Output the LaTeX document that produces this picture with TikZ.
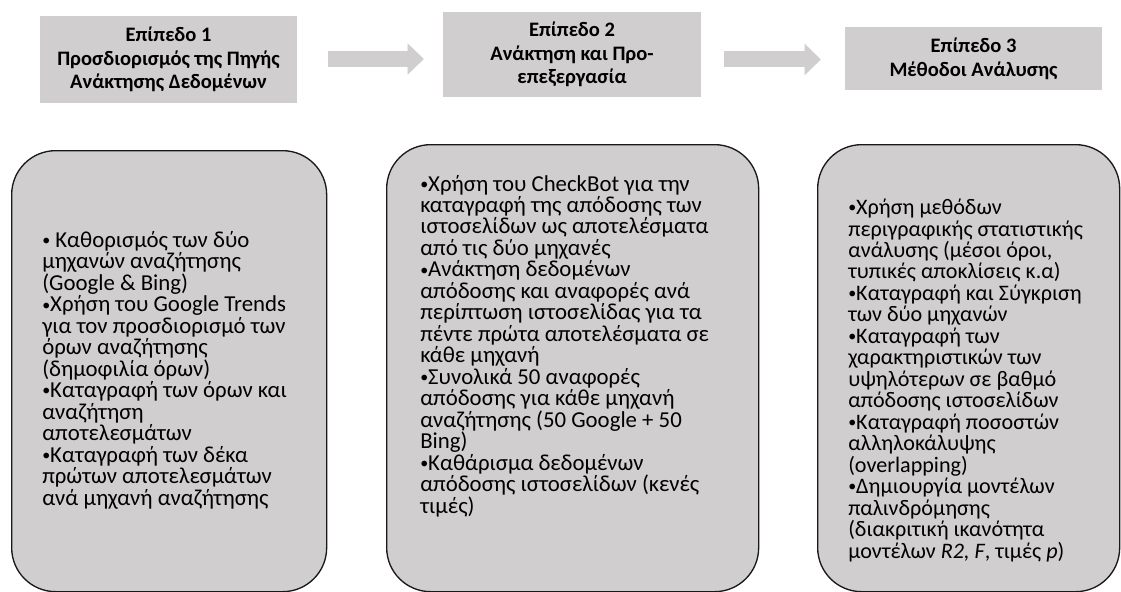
\documentclass[tikz,border=0pt]{standalone}
\usepackage{fontspec}
\setmainfont{Carlito}
\usetikzlibrary{arrows.meta}
\definecolor{boxgray}{RGB}{208,206,206}
\definecolor{edgegray}{RGB}{25,25,25}
\newcommand{\dotbul}{\raisebox{1.3pt}{\fontsize{12}{0}\selectfont•}}

\begin{document}
\begin{tikzpicture}[x=0.75pt,y=-0.75pt,
    level/.style={fill=boxgray,inner sep=0pt,align=center,font=\fontsize{15.4}{17.8}\selectfont\bfseries},
    task/.style={fill=boxgray,draw=edgegray,line width=1pt,rounded corners=33pt,anchor=north west,inner sep=0pt},
    tasktext/.style={anchor=base west,inner sep=0pt,align=left,font=\fontsize{17.1}{16.1}\selectfont},
    flow/.style={line width=12pt,draw=boxgray,-{Triangle[length=12pt,width=23.25pt,line width=0.1pt]}}]
  \useasboundingbox (0,0) rectangle (1121,592);
  % levels
  \draw
    (168.5,59.5) node[level,minimum width=192.75pt,minimum height=65.25pt] (lvl1){Επίπεδο 1\\Προσδιορισμός της Πηγής\\Ανάκτησης Δεδομένων}
    (572,54.5) node[level,minimum width=193.5pt,minimum height=63.75pt] (lvl2){Επίπεδο 2\\Ανάκτηση και Προ-\\επεξεργασία}
    (973.5,58.5) node[level,minimum width=192.75pt,minimum height=47.25pt] (lvl3){Επίπεδο 3\\Μέθοδοι Ανάλυσης};
  % tasks
  \draw
    (11,150) node[task,minimum width=236.25pt,minimum height=330.75pt] (task1){}
    (386,144) node[task,minimum width=279pt,minimum height=335.25pt] (task2){}
    (817,144) node[task,minimum width=226.5pt,minimum height=335.25pt] (task3){};
  % texts, placed by their last line
  \draw
    (42,505) node[tasktext] (txt1){\dotbul{} Καθορισμός των δύο\\μηχανών αναζήτησης\\(Google \& Bing)\\\dotbul Χρήση του Google Trends\\για τον προσδιορισμό των\\όρων αναζήτησης\\(δημοφιλία όρων)\\\dotbul Καταγραφή των όρων και\\αναζήτηση\\αποτελεσμάτων\\\dotbul Καταγραφή των δέκα\\πρώτων αποτελεσμάτων\\ανά μηχανή αναζήτησης}
    (420,513) node[tasktext] (txt2){\dotbul Χρήση του CheckBot για την\\καταγραφή της απόδοσης των\\ιστοσελίδων ως αποτελέσματα\\από τις δύο μηχανές\\\dotbul Ανάκτηση δεδομένων\\απόδοσης και αναφορές ανά\\περίπτωση ιστοσελίδας για τα\\πέντε πρώτα αποτελέσματα σε\\κάθε μηχανή\\\dotbul Συνολικά 50 αναφορές\\απόδοσης για κάθε μηχανή\\αναζήτησης (50 Google + 50\\Bing)\\\dotbul Καθάρισμα δεδομένων\\απόδοσης ιστοσελίδων (κενές\\τιμές)}
    (848,558) node[tasktext,font=\fontsize{16.6}{16.1}\selectfont] (txt3){\dotbul Χρήση μεθόδων\\περιγραφικής στατιστικής\\ανάλυσης (μέσοι όροι,\\τυπικές αποκλίσεις κ.α)\\\dotbul Καταγραφή και Σύγκριση\\των δύο μηχανών\\\dotbul Καταγραφή των\\χαρακτηριστικών των\\υψηλότερων σε βαθμό\\απόδοσης ιστοσελίδων\\\dotbul Καταγραφή ποσοστών\\αλληλοκάλυψης\\(overlapping)\\\dotbul Δημιουργία μοντέλων\\παλινδρόμησης\\(διακριτική ικανότητα\\μοντέλων \textit{R2, F}, τιμές \textit{p})};
  \begin{scope}[flow]
    \draw ([shift={(31,-0.5)}]lvl1.east) -- ([shift={(-19,4.5)}]lvl2.west);
    \draw ([shift={(23,5)}]lvl2.east) -- ([shift={(-24,1)}]lvl3.west);
  \end{scope}
\end{tikzpicture}
\end{document}
